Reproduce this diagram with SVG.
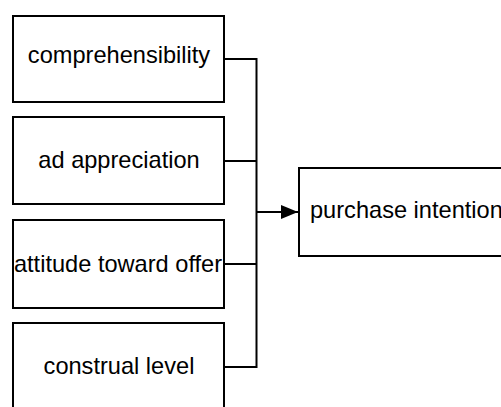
<svg xmlns="http://www.w3.org/2000/svg" width="501" height="407" viewBox="0 0 501 407">
<defs>
<style>
.box{fill:#fff;stroke:#000;stroke-width:2}
.lbl{font-family:"Liberation Sans",Arial,sans-serif;font-size:23.6px;fill:#000}
.c{text-anchor:middle}
.edge{fill:none;stroke:#000;stroke-width:2}
</style>
<marker id="arr" markerWidth="18" markerHeight="14" refX="17" refY="7" orient="auto" markerUnits="userSpaceOnUse">
<path d="M0,0 L17,7 L0,14 Z" fill="#000"/>
</marker>
</defs>
<rect width="501" height="407" fill="#fff"/>
<g id="connectors">
<path class="edge" d="M224,59 H256.5 M225,161 H256.5 M225,264 H256.5 M225,367 H256.5 M256.5,58 V368"/>
<path class="edge" d="M256.5,212 H298" marker-end="url(#arr)"/>
</g>
<g id="comprehensibility">
<rect class="box" x="13" y="16" width="211" height="86"/>
<text class="lbl c" x="119" y="63">comprehensibility</text>
</g>
<g id="ad-appreciation">
<rect class="box" x="13" y="117" width="211" height="87"/>
<text class="lbl c" x="119" y="168">ad appreciation</text>
</g>
<g id="attitude-toward-offer">
<rect class="box" x="13" y="220" width="211" height="88"/>
<text class="lbl c" x="118" y="272">attitude toward offer</text>
</g>
<g id="construal-level">
<rect class="box" x="13" y="323" width="211" height="100"/>
<text class="lbl c" x="119" y="374">construal level</text>
</g>
<g id="purchase-intention">
<rect class="box" x="299" y="168" width="220" height="88"/>
<text class="lbl" x="310" y="218">purchase intention</text>
</g>
</svg>
